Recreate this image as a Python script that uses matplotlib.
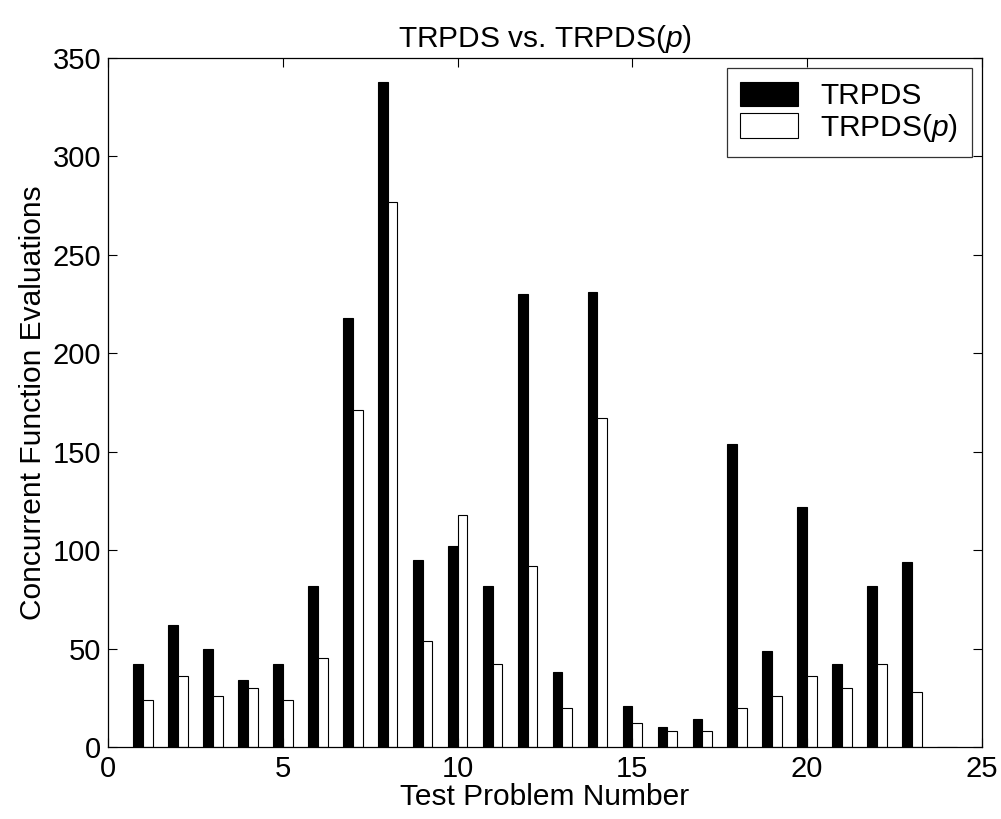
import matplotlib
matplotlib.use("Agg")
import matplotlib.pyplot as plt
import numpy as np

plt.rcParams['font.family'] = ['Liberation Sans', 'DejaVu Sans']
plt.rcParams['mathtext.fontset'] = 'custom'
plt.rcParams['mathtext.it'] = 'Liberation Sans:italic'
plt.rcParams['mathtext.rm'] = 'Liberation Sans'

problems = list(range(1, 25))
trpds = [42, 62, 50, 34, 42, 82, 218, 338, 95, 102, 82, 230, 38, 231, 21, 10, 14, 154, 49, 122, 42, 82, 94, 0]
trpds_p = [24, 36, 26, 30, 24, 45, 171, 277, 54, 118, 42, 92, 20, 167, 12, 8, 8, 20, 26, 36, 30, 42, 28, 0]

fig = plt.figure(figsize=(10.01, 8.19), dpi=100)
ax = fig.add_axes([0.1079, 0.0879, 0.981 - 0.1079, 0.9292 - 0.0879])

x = np.array(problems)
w = 0.28
ax.bar(x - w / 2, trpds, width=w, color='black', edgecolor='black', linewidth=0.8, label='TRPDS')
ax.bar(x + w / 2, trpds_p, width=w, color='white', edgecolor='black', linewidth=0.8, label='TRPDS($\\it{p}$)')

ax.set_xlim(0, 25)
ax.set_ylim(0, 350)
ax.set_xticks([0, 5, 10, 15, 20, 25])
ax.set_yticks([0, 50, 100, 150, 200, 250, 300, 350])
ax.tick_params(direction='in', length=6.5, width=0.8, labelsize=21, top=True, right=True)
ax.tick_params(axis='x', pad=6)
ax.tick_params(axis='y', pad=5)
for s in ax.spines.values():
    s.set_linewidth(0.9)

ax.set_xlabel('Test Problem Number', fontsize=21.5, labelpad=0)
ax.set_ylabel('Concurrent Function Evaluations', fontsize=21.5, labelpad=4)
ax.set_title('TRPDS vs. TRPDS($\\it{p}$)', fontsize=21.5, pad=8)

leg = ax.legend(loc='upper right', fontsize=21.5, frameon=True, fancybox=False,
                edgecolor='black', handlelength=1.92, handleheight=0.89,
                handletextpad=0.75, borderaxespad=0.35, borderpad=0.45,
                labelspacing=0.05)
leg.get_frame().set_linewidth(0.9)

fig.savefig('out.png', dpi=100)
